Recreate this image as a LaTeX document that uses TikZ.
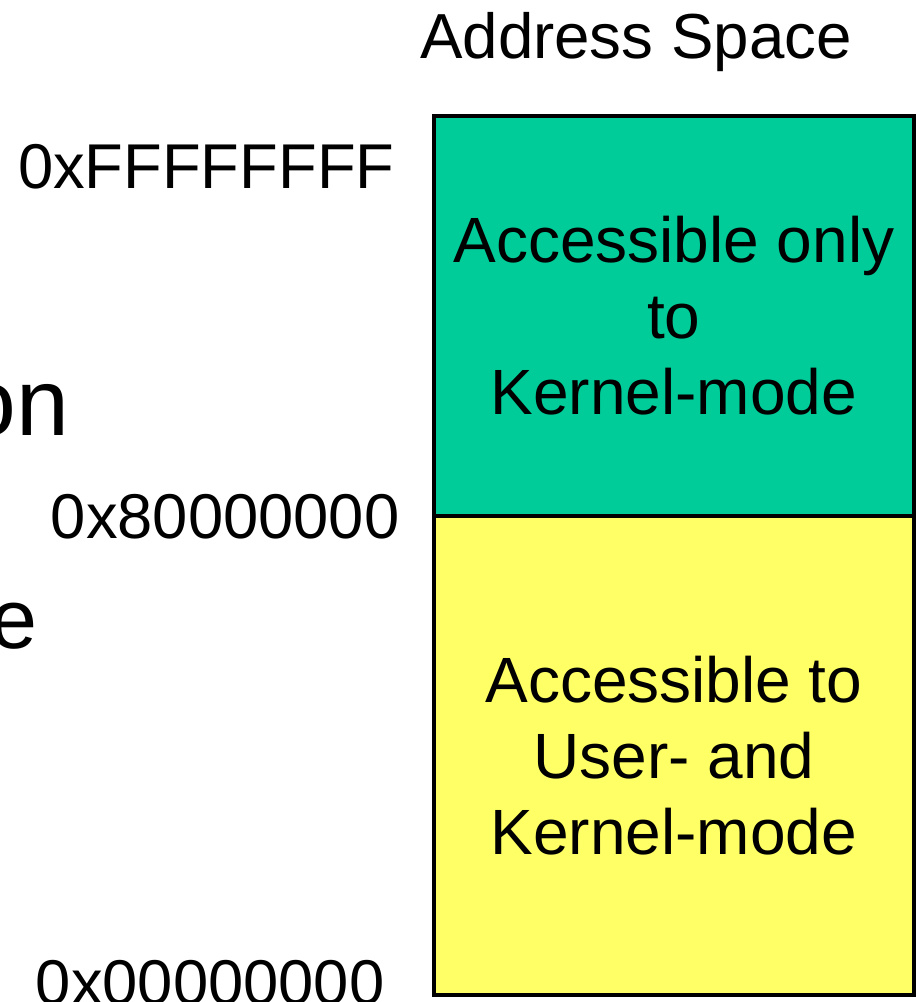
\documentclass[tikz,border=0pt]{standalone}
\usepackage{fontspec}
\setmainfont{Liberation Sans}
\usetikzlibrary{positioning}

\definecolor{kernelgreen}{HTML}{00CC99}
\definecolor{useryellow}{HTML}{FFFF66}

\begin{document}
\begin{tikzpicture}[x=0.01cm,y=-0.01cm,
  region/.style={draw,line width=1pt,minimum width=4.8cm,anchor=north west,
    inner sep=0pt,align=center,font=\fontsize{18.2}{21.6}\selectfont},
  addr/.style={anchor=base east,inner sep=0pt,font=\fontsize{18}{21}\selectfont}]
  \useasboundingbox (0,0) rectangle (918,1002);
  % ===================== address space =====================
  \node[anchor=base,inner sep=0pt,font=\fontsize{18.1}{21}\selectfont] (title) at (636,58) {Address Space};
  % kernel half (top)
  \node[region,fill=kernelgreen,minimum height=4cm] (kernel) at (432,114)
    {Accessible only\\to\\Kernel-mode};
  % user half (bottom)
  \node[region,fill=useryellow,minimum height=4.79cm] (user) at (432,514)
    {Accessible to\\ User- and\\Kernel-mode};
  % ===================== addresses =====================
  \node[addr] (top) at (395,188) {0xFFFFFFFF};
  \node[addr] (mid) at (400,538) {0x80000000};
  \node[addr] (low) at (385,1004) {0x00000000};
  % ===================== clipped text on the left =====================
  \node[anchor=base east,inner sep=0pt,font=\fontsize{27}{30}\selectfont] (on) at (70,435) {on};
  \node[anchor=base east,inner sep=0pt,font=\fontsize{24}{28}\selectfont] (e) at (38,648) {e};
\end{tikzpicture}
\end{document}
